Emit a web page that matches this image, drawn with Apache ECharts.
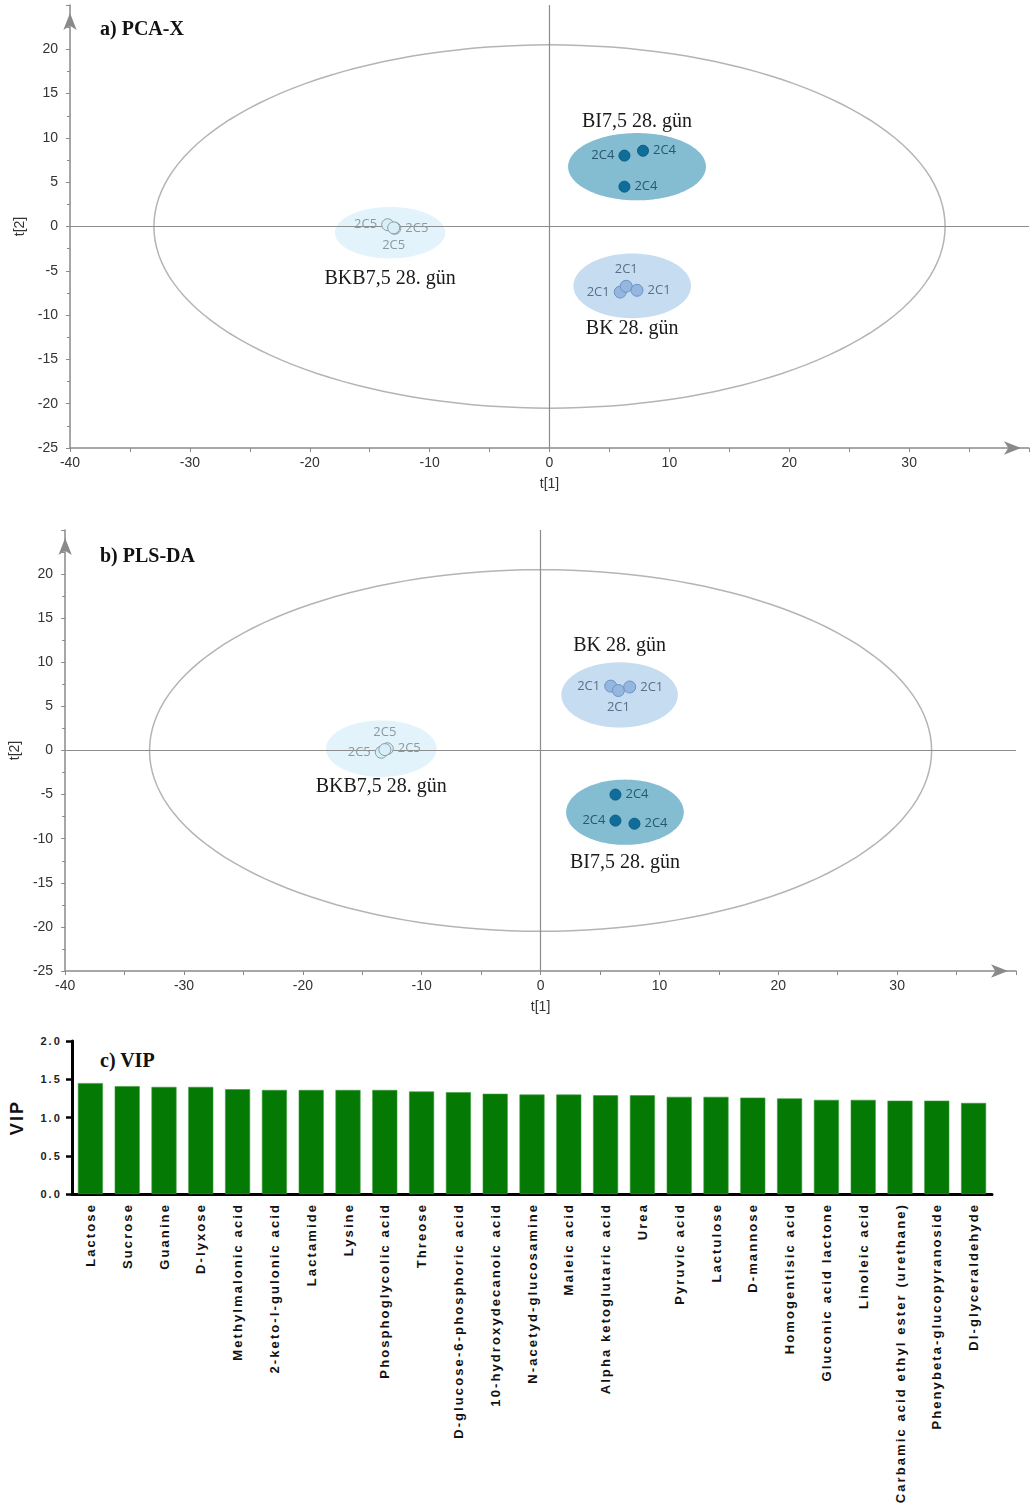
<!DOCTYPE html>
<html>
<head>
<meta charset="utf-8">
<script src="https://cdn.jsdelivr.net/npm/echarts@6/dist/echarts.min.js"></script>
<style>
html, body { margin: 0; padding: 0; background: #fff; }
#wrap { position: relative; width: 1032px; height: 1508px; overflow: hidden; }
#pca { position: absolute; left: 0; top: 0; width: 1032px; height: 500px; }
#pls { position: absolute; left: 0; top: 500px; width: 1032px; height: 525px; }
#vip { position: absolute; left: 0; top: 1025px; width: 1032px; height: 483px; }
#vip text { letter-spacing: 2.1px; }
#vip text[style*="Serif"], #vip text[font-family*="Serif"] { letter-spacing: 0; }
</style>
</head>
<body>
<div id="wrap">
  <div id="pca"></div>
  <div id="pls"></div>
  <div id="vip"></div>
</div>
<script>
// ---- score plot data: t[1], t[2] per sample ----
const groupNames = ['BI7,5 28. gün', 'BKB7,5 28. gün', 'BK 28. gün'];
const sampleNames = ['2C4', '2C5', '2C1'];

// a) PCA-X scores
const pcaBI  = [[6.25, 8.0], [7.8, 8.55], [6.25, 4.5]];
const pcaBKB = [[-13.5, 0.2], [-12.9, -0.2], [-13.0, -0.15]];
const pcaBK  = [[5.9, -7.4], [6.4, -6.75], [7.3, -7.2]];
// group regions: centre t1, centre t2, half-width, half-height
const pcaRegions = [[7.3, 6.75, 5.75, 3.8], [-13.3, -0.7, 4.6, 2.9], [6.9, -6.7, 4.9, 3.65]];
const pcaHotelling = [0, 0, 33, 20.5];

// b) PLS-DA scores
const plsBI  = [[6.3, -5.0], [6.3, -7.95], [7.9, -8.3]];
const plsBKB = [[-13.4, -0.2], [-12.9, 0.2], [-13.1, 0.1]];
const plsBK  = [[5.9, 7.3], [6.55, 6.8], [7.5, 7.2]];
const plsRegions = [[7.1, -7.0, 4.95, 3.7], [-13.4, 0.2, 4.65, 3.2], [6.65, 6.3, 4.9, 3.7]];
const plsHotelling = [0, 0, 32.9, 20.5];

// c) VIP scores
const vipCompounds = [
  'Lactose', 'Sucrose', 'Guanine', 'D-lyxose', 'Methylmalonic acid',
  '2-keto-l-gulonic acid', 'Lactamide', 'Lysine', 'Phosphoglycolic acid', 'Threose',
  'D-glucose-6-phosphoric acid', '10-hydroxydecanoic acid', 'N-acetyd-glucosamine', 'Maleic acid',
  'Alpha ketoglutaric acid', 'Urea', 'Pyruvic acid', 'Lactulose', 'D-mannose',
  'Homogentisic acid', 'Gluconic acid lactone', 'Linoleic acid',
  'Carbamic acid ethyl ester (urethane)', 'Phenybeta-glucopyranoside', 'Dl-glyceraldehyde'
];
const vipValues = [1.45, 1.41, 1.40, 1.40, 1.37, 1.36, 1.36, 1.36, 1.36, 1.34, 1.33, 1.31, 1.30,
  1.30, 1.29, 1.29, 1.27, 1.27, 1.26, 1.25, 1.23, 1.23, 1.22, 1.22, 1.19];

// ---- styling ----
const groupStyles = [
  { region: '#84bdd2', fill: '#0f6d9a', border: '#0b5c84', size: 11, text: '#2a5670' },
  { region: '#e3f3fb', fill: '#d9eff7', border: '#8a9ea8', size: 12, text: '#8c9aa0' },
  { region: '#c6dcf1', fill: '#94b6df', border: '#6f93c4', size: 12, text: '#5a6f8a' }
];
const AXIS = '#8a8a8a';
const SANS = 'Liberation Sans';
const SERIF = 'Liberation Serif';

function ellipsePoints(api, cx, cy, rx, ry) {
  const pts = [];
  const n = 160;
  for (let i = 0; i < n; i++) {
    const t = i / n * Math.PI * 2;
    pts.push(api.coord([cx + rx * Math.cos(t), cy + ry * Math.sin(t)]));
  }
  return pts;
}

function scoreOption(cfg) {
  const series = [];
  // Hotelling T2 ellipse
  series.push({
    type: 'custom', silent: true, z: 1,
    data: [cfg.hotelling],
    renderItem: function (params, api) {
      return {
        type: 'polygon',
        shape: { points: ellipsePoints(api, api.value(0), api.value(1), api.value(2), api.value(3)) },
        style: { fill: 'none', stroke: '#b4b4b4', lineWidth: 1.5 }
      };
    }
  });
  // shaded group regions with group captions
  series.push({
    type: 'custom', silent: true, z: 2,
    data: cfg.regions,
    renderItem: function (params, api) {
      const i = params.dataIndex;
      const cx = api.value(0), cy = api.value(1), rx = api.value(2), ry = api.value(3);
      const gap = cfg.captionGap[i];
      const edge = api.coord([cx, gap < 0 ? cy + ry : cy - ry]);
      return {
        type: 'group',
        children: [
          {
            type: 'polygon',
            shape: { points: ellipsePoints(api, cx, cy, rx, ry) },
            style: { fill: groupStyles[i].region, stroke: 'none' }
          },
          {
            type: 'text',
            x: edge[0], y: edge[1] + gap,
            style: {
              text: groupNames[i], fill: '#1a1a1a',
              font: '20px "' + SERIF + '"',
              align: 'center', verticalAlign: 'middle',
              textAlign: 'center', textVerticalAlign: 'middle'
            }
          }
        ]
      };
    }
  });
  // zero reference lines
  series.push({
    type: 'scatter', silent: true, z: 3, data: [],
    markLine: {
      silent: true, symbol: 'none', animation: false,
      label: { show: false },
      lineStyle: { color: '#8c8c8c', width: 1.2, type: 'solid' },
      data: [{ xAxis: 0 }, { yAxis: 0 }]
    }
  });
  // sample scores
  cfg.points.forEach(function (pts, g) {
    const st = groupStyles[g];
    series.push({
      type: 'scatter', z: 5,
      symbolSize: st.size,
      itemStyle: { color: st.fill, borderColor: st.border, borderWidth: 1, opacity: 1 },
      label: {
        show: true, formatter: sampleNames[g], color: st.text,
        fontFamily: 'Open Sans', fontSize: 13, distance: 4
      },
      data: pts.map(function (p, k) {
        return { value: p, label: { position: cfg.labelPos[g][k] } };
      })
    });
  });

  return {
    animation: false,
    title: {
      text: cfg.title, left: 100, top: cfg.titleTop, padding: 0,
      textStyle: { fontFamily: SERIF, fontWeight: 'bold', fontSize: 20, color: '#111' }
    },
    grid: cfg.grid,
    xAxis: {
      type: 'value', min: -40, max: 40, interval: 5,
      name: 't[1]', nameLocation: 'middle', nameGap: 29,
      nameTextStyle: { fontFamily: SANS, fontSize: 14, color: '#333' },
      axisLine: { onZero: false, lineStyle: { color: AXIS, width: 1.5 }, symbol: ['none', 'arrow'], symbolSize: [10, 17], symbolOffset: [0, -8] },
      axisTick: { show: true, length: 4, inside: false, lineStyle: { color: AXIS } },
      axisLabel: {
        fontFamily: SANS, fontSize: 14, color: '#333', margin: 8,
        formatter: function (v) { return (v % 10 === 0 && v < 40) ? String(v) : ''; }
      },
      splitLine: { show: false }
    },
    yAxis: {
      type: 'value', min: -25, max: 25, interval: 5,
      name: 't[2]', nameLocation: 'middle', nameGap: 41,
      nameTextStyle: { fontFamily: SANS, fontSize: 14, color: '#333' },
      axisLine: { onZero: false, lineStyle: { color: AXIS, width: 1.5 }, symbol: ['none', 'arrow'], symbolSize: [10, 17], symbolOffset: [0, -8] },
      axisTick: { show: true, length: 4, lineStyle: { color: AXIS } },
      minorTick: { show: true, splitNumber: 2, length: 3, lineStyle: { color: AXIS } },
      axisLabel: {
        fontFamily: SANS, fontSize: 14, color: '#333', margin: 12,
        formatter: function (v) { return v < 25 ? String(v) : ''; }
      },
      splitLine: { show: false }
    },
    series: series
  };
}

const pcaChart = echarts.init(document.getElementById('pca'), null, { renderer: 'canvas' });
pcaChart.setOption(scoreOption({
  title: 'a) PCA-X', titleTop: 20,
  grid: { left: 70, right: 2, top: 5, bottom: 52 },
  hotelling: pcaHotelling,
  regions: pcaRegions,
  captionGap: [-11, 20, 11],
  points: [pcaBI, pcaBKB, pcaBK],
  labelPos: [['left', 'right', 'right'], ['left', 'right', 'bottom'], ['left', 'top', 'right']]
}));

const plsChart = echarts.init(document.getElementById('pls'), null, { renderer: 'canvas' });
plsChart.setOption(scoreOption({
  title: 'b) PLS-DA', titleTop: 47,
  grid: { left: 62, right: 16, top: 30, bottom: 54 },
  hotelling: plsHotelling,
  regions: plsRegions,
  captionGap: [18, 10, -17],
  points: [plsBI, plsBKB, plsBK],
  labelPos: [['right', 'left', 'right'], ['left', 'right', 'top'], ['left', 'bottom', 'right']]
}));

// ---- c) VIP bar chart ----
const vipChart = echarts.init(document.getElementById('vip'), null, { renderer: 'svg' });
vipChart.setOption({
  animation: false,
  title: {
    text: 'c) VIP', left: 100, top: 25, padding: 0,
    textStyle: { fontFamily: SERIF, fontWeight: 'bold', fontSize: 20, color: '#111' }
  },
  grid: { left: 70, right: 40, top: 16, bottom: 314 },
  xAxis: {
    type: 'category', data: vipCompounds,
    axisLine: { lineStyle: { color: '#000', width: 3 } },
    axisTick: { alignWithLabel: true, length: 6, lineStyle: { color: '#000', width: 2.5 } },
    axisLabel: {
      rotate: 90, interval: 0, margin: 9,
      fontFamily: SANS, fontWeight: 'bold', fontSize: 13, color: '#111'
    }
  },
  yAxis: {
    type: 'value', min: 0, max: 2, interval: 0.5,
    name: 'VIP', nameLocation: 'middle', nameGap: 46,
    nameTextStyle: { fontFamily: SANS, fontWeight: 'bold', fontSize: 18, color: '#111' },
    axisLine: { show: true, lineStyle: { color: '#000', width: 3 } },
    axisTick: { show: true, length: 6, lineStyle: { color: '#000', width: 2.5 } },
    axisLabel: {
      fontFamily: SANS, fontWeight: 'bold', fontSize: 11, color: '#222', margin: 10,
      formatter: function (v) { return v.toFixed(1); }
    },
    splitLine: { show: false }
  },
  series: [{
    type: 'bar', data: vipValues, barCategoryGap: '32%',
    itemStyle: { color: '#047a04', borderColor: '#3a9a3a', borderWidth: 0.6 }
  }]
});
</script>
</body>
</html>
